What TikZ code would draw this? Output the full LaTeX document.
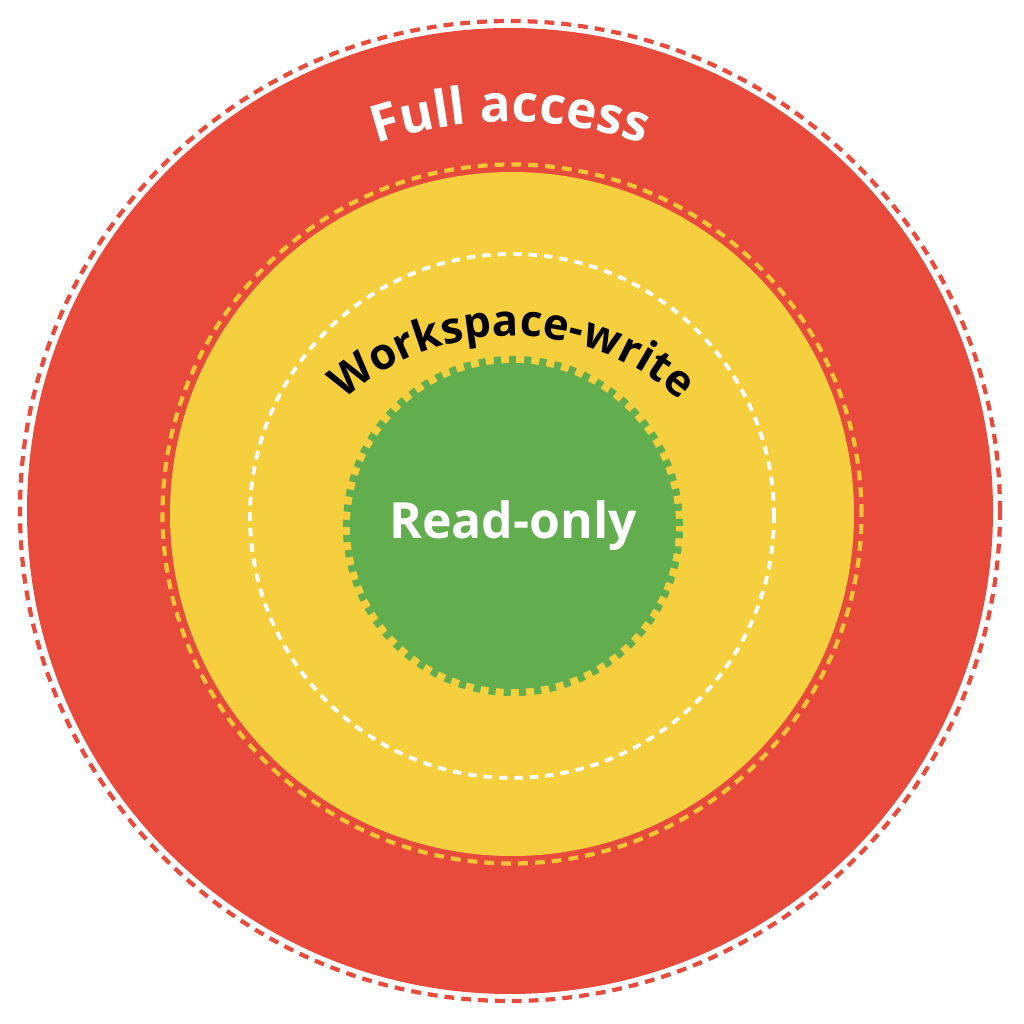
\documentclass[tikz,border=0pt]{standalone}
\usepackage{fontspec}
\newfontfamily\zonefont{Open Sans}
\usetikzlibrary{decorations.text}
\definecolor{fullred}{HTML}{E84A3C}
\definecolor{writeyellow}{HTML}{F6CF3F}
\definecolor{readgreen}{HTML}{62AE4E}
\definecolor{edgeyellow}{HTML}{F5C535}
\tikzset{
  zone/.style={circle, inner sep=0pt, draw=none},
  zoneborder/.style={line width=1.2pt, dash pattern=on 2.8pt off 2pt},
  arclabel/.style={decorate, decoration={text along path, text align=center, text={#1}}}
}

\begin{document}
\begin{tikzpicture}
  \fill[white] (0,0) rectangle (10.24,10.24);
  \useasboundingbox (0,0) rectangle (10.24,10.24);

  % rings, outside in
  \node[zone, fill=fullred, minimum size=9.66cm] (full) at (5.10,5.13) {};
  \draw[zoneborder, fullred] (full.center) circle[radius=4.90];
  \node[zone, fill=writeyellow, minimum size=6.84cm] (write) at (5.12,5.10) {};
  \draw[zoneborder, edgeyellow] (write.center) circle[radius=3.495];
  \coordinate (writeedge) at (5.12,5.08);
  \draw[zoneborder, white, line width=1.1pt, dash pattern=on 2.4pt off 2pt] (writeedge) circle[radius=2.62];
  \draw[readgreen, line width=2.6pt, dash pattern=on 2pt off 2.3pt] (5.13,4.98) circle[radius=1.655];
  \node[zone, fill=readgreen, minimum size=3.26cm, text=white,
        font=\zonefont\bfseries\fontsize{14.2}{16}\selectfont] (readonly) at (5.13,4.98) {\raisebox{-0.3ex}{Read-only}};

  % curved titles
  \coordinate (fullarc) at (5.10,4.77);
  \coordinate (writearc) at (5.12,4.36);
  \path[arclabel={|\zonefont\bfseries\fontsize{14.6}{16}\selectfont\color{white}|Full access}]
    (fullarc) ++(125:4.25) arc[start angle=125, end angle=55, radius=4.25];
  \path[arclabel={|\zonefont\bfseries\fontsize{12.4}{15}\selectfont\color{black}|Workspace-write}]
    (writearc) ++(145:2.52) arc[start angle=145, end angle=35, radius=2.52];
\end{tikzpicture}
\end{document}
